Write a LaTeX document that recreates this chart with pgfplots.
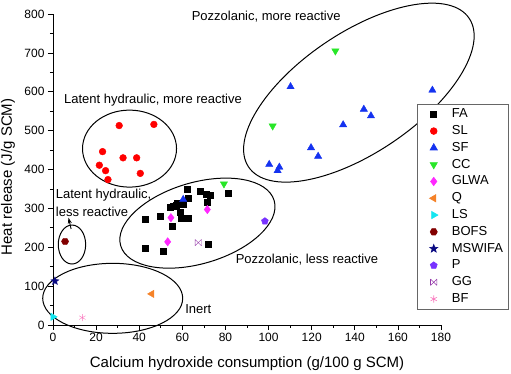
\documentclass[border=0pt]{standalone}
\usepackage{pgfplots}
\pgfplotsset{compat=1.18}
\usepackage{fontspec}
\setmainfont{Liberation Sans}
\usetikzlibrary{arrows.meta}

\definecolor{cSL}{RGB}{255,0,0}
\definecolor{cSF}{RGB}{20,50,240}
\definecolor{cCC}{RGB}{40,230,40}
\definecolor{cGLWA}{RGB}{255,40,255}
\definecolor{cQ}{RGB}{245,130,40}
\definecolor{cLS}{RGB}{20,230,240}
\definecolor{cBOFS}{RGB}{130,0,0}
\definecolor{cMSW}{RGB}{10,10,130}
\definecolor{cP}{RGB}{120,50,255}
\definecolor{cGG}{RGB}{150,60,170}
\definecolor{cBF}{RGB}{250,120,190}

\pgfdeclareplotmark{hexagon*}{%
  \pgfpathmoveto{\pgfpointpolar{0}{\pgfplotmarksize}}%
  \pgfpathlineto{\pgfpointpolar{60}{\pgfplotmarksize}}%
  \pgfpathlineto{\pgfpointpolar{120}{\pgfplotmarksize}}%
  \pgfpathlineto{\pgfpointpolar{180}{\pgfplotmarksize}}%
  \pgfpathlineto{\pgfpointpolar{240}{\pgfplotmarksize}}%
  \pgfpathlineto{\pgfpointpolar{300}{\pgfplotmarksize}}%
  \pgfpathclose\pgfusepathqfillstroke}
\pgfdeclareplotmark{fstar}{%
  \pgfpathmoveto{\pgfpointpolar{90}{\pgfplotmarksize}}%
  \pgfpathlineto{\pgfpointpolar{126}{0.42\pgfplotmarksize}}%
  \pgfpathlineto{\pgfpointpolar{162}{\pgfplotmarksize}}%
  \pgfpathlineto{\pgfpointpolar{198}{0.42\pgfplotmarksize}}%
  \pgfpathlineto{\pgfpointpolar{234}{\pgfplotmarksize}}%
  \pgfpathlineto{\pgfpointpolar{270}{0.42\pgfplotmarksize}}%
  \pgfpathlineto{\pgfpointpolar{306}{\pgfplotmarksize}}%
  \pgfpathlineto{\pgfpointpolar{342}{0.42\pgfplotmarksize}}%
  \pgfpathlineto{\pgfpointpolar{18}{\pgfplotmarksize}}%
  \pgfpathlineto{\pgfpointpolar{54}{0.42\pgfplotmarksize}}%
  \pgfpathclose\pgfusepathqfillstroke}
\pgfdeclareplotmark{ggmark}{%
  \pgfpathmoveto{\pgfqpoint{-\pgfplotmarksize}{-\pgfplotmarksize}}%
  \pgfpathlineto{\pgfqpoint{\pgfplotmarksize}{\pgfplotmarksize}}%
  \pgfpathmoveto{\pgfqpoint{-\pgfplotmarksize}{\pgfplotmarksize}}%
  \pgfpathlineto{\pgfqpoint{\pgfplotmarksize}{-\pgfplotmarksize}}%
  \pgfpathmoveto{\pgfqpoint{-\pgfplotmarksize}{-\pgfplotmarksize}}%
  \pgfpathlineto{\pgfqpoint{-\pgfplotmarksize}{\pgfplotmarksize}}%
  \pgfpathmoveto{\pgfqpoint{\pgfplotmarksize}{-\pgfplotmarksize}}%
  \pgfpathlineto{\pgfqpoint{\pgfplotmarksize}{\pgfplotmarksize}}%
  \pgfusepathqstroke}

\pgfplotsset{lgm/.style={only marks,
  legend image code/.code={\path[draw=none,fill=none] (0pt,0pt) -- (29pt,0pt);
    \draw[##1] plot coordinates {(13.5pt,0pt)};}}}

\begin{document}
\begin{tikzpicture}
\begin{axis}[
  scale only axis, width=388pt, height=311pt,
  xmin=0, xmax=180, ymin=0, ymax=800,
  axis x line*=bottom, axis y line*=left,
  axis line style={black, line width=0.8pt},
  clip=false,
  xtick={0,20,...,180}, ytick={0,100,...,800},
  minor x tick num=1, minor y tick num=1,
  tick align=outside,
  major tick length=5pt, minor tick length=3pt,
  tick style={black, line width=0.7pt},
  ticklabel style={font=\fontsize{12}{14}\selectfont},
  /pgf/number format/assume math mode=true,
  xlabel={Calcium hydroxide consumption (g/100 g SCM)},
  ylabel={Heat release (J/g SCM)},
  label style={font=\fontsize{15}{18}\selectfont},
  xlabel style={at={([yshift=-39pt]axis description cs:0.5,0)}, anchor=center},
  ylabel style={at={([xshift=-45pt]axis description cs:0,0.476)}, anchor=center},
  legend cell align=left,
  legend style={at={(rel axis cs:0.938,0.712)}, anchor=north west,
    draw=black!60, line width=0.6pt, font=\fontsize{13}{15}\selectfont,
    nodes={text height=9.4pt, text depth=2.6pt, inner ysep=2.4pt, inner xsep=2.6pt}},
]
\addplot[lgm, mark=square*, mark size=3pt, black] coordinates {
(62.3,350) (68.5,345) (71,337) (73,333) (62.8,327) (71.6,315) (57.4,314)
(55.8,305) (54.6,303) (58.9,289) (59.7,276) (62.9,276) (49.6,281) (42.7,273)
(55.2,254) (43,198) (50.9,191) (72.2,209) (81.2,338) (57,309) (60.5,312)};
\addlegendentry{FA}
\addplot[lgm, mark=*, mark size=3.4pt, cSL] coordinates {
(30.7,513) (46.8,516) (23,446) (32.5,430) (38.8,430) (21.5,411) (24.4,397) (40.5,390) (25.5,374)};
\addlegendentry{SL}
\addplot[lgm, mark=triangle*, mark size=4.2pt, cSF] coordinates {
(110.2,613) (176,604) (144.2,555) (147.5,538) (134.6,515) (119.7,456) (123,434)
(100.3,413) (105,406) (104.2,397) (60.4,323)};
\addlegendentry{SF}
\addplot[lgm, mark=triangle*, mark size=4.2pt, mark options={rotate=180}, cCC] coordinates {
(131,705) (101.9,512) (79.3,363)};
\addlegendentry{CC}
\addplot[lgm, mark=diamond*, mark size=4.2pt, cGLWA] coordinates {
(54.7,276) (71.6,297) (53.2,214)};
\addlegendentry{GLWA}
\addplot[lgm, mark=triangle*, mark size=4.2pt, mark options={rotate=90}, cQ] coordinates {
(45.8,80)};
\addlegendentry{Q}
\addplot[lgm, mark=triangle*, mark size=4.2pt, mark options={rotate=-90}, cLS] coordinates {
(0,21)};
\addlegendentry{LS}
\addplot[lgm, mark=hexagon*, mark size=3.6pt, cBOFS] coordinates {
(5.6,215)};
\addlegendentry{BOFS}
\addplot[lgm, mark=fstar, mark size=4.2pt, cMSW] coordinates {
(0.9,113)};
\addlegendentry{MSWIFA}
\addplot[lgm, mark=pentagon*, mark size=3.6pt, cP] coordinates {
(98.3,267)};
\addlegendentry{P}
\addplot[lgm, mark=ggmark, mark size=3.2pt, cGG] coordinates {
(67.4,212)};
\addlegendentry{GG}
\addplot[lgm, mark=asterisk, mark size=3.6pt, cBF] coordinates {
(13.6,19)};
\addlegendentry{BF}

% grouping ellipses
\draw[line width=1pt] (axis cs:141.9,597.7) ellipse [x radius=133pt, y radius=60pt, rotate=34];
\draw[line width=1pt] (axis cs:35.5,453.7) ellipse [x radius=47pt, y radius=38.5pt];
\draw[line width=1pt] (axis cs:8.8,207) ellipse [x radius=13.7pt, y radius=19.5pt];
\draw[line width=1pt] (axis cs:67,262) ellipse [x radius=80pt, y radius=40.6pt, rotate=16.4];
\draw[line width=1pt] (axis cs:27.7,68.6) ellipse [x radius=70pt, y radius=35pt];
\draw[line width=0.9pt, -{Stealth[length=6pt,width=4pt]}] (axis cs:8.4,247) -- (axis cs:7.2,276);

\begin{scope}[every node/.style={font=\fontsize{13}{15}\selectfont, inner sep=0pt}]
\node at (axis cs:98.9,792.3) {Pozzolanic, more reactive};
\node at (axis cs:46.4,578.8) {Latent hydraulic, more reactive};
\node[anchor=west] at (axis cs:1.25,334.4) {Latent hydraulic,};
\node[anchor=west] at (axis cs:1.25,291.4) {less reactive};
\node at (axis cs:117.8,167.2) {Pozzolanic, less reactive};
\node at (axis cs:67.4,40.4) {Inert};
\end{scope}
\end{axis}
\pgfresetboundingbox
\path (-53pt,-49pt) rectangle (458pt,325pt);
\end{tikzpicture}
\end{document}
